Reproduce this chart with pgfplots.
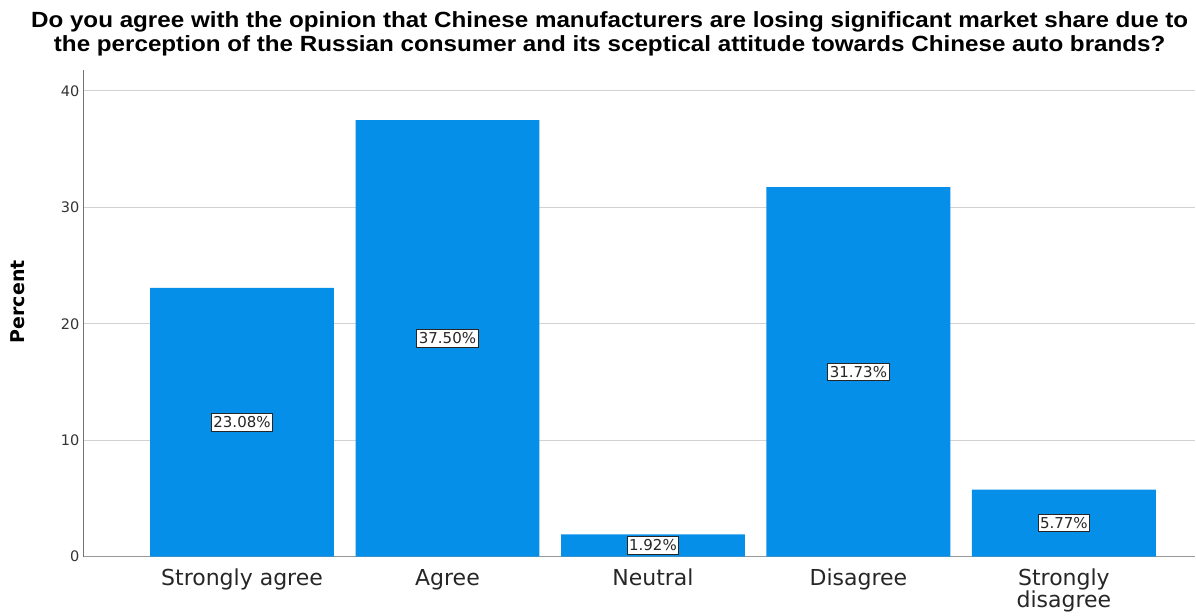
\documentclass[border=0pt]{standalone}
\usepackage{pgfplots}
\pgfplotsset{compat=1.18}
\usepackage{fontspec}
\setmainfont{DejaVu Sans}
\newfontfamily\titlefont{Liberation Sans}
\usetikzlibrary{calc}
\definecolor{barblue}{RGB}{6,143,232}
\definecolor{gridgray}{RGB}{210,210,210}
\begin{document}
\begin{tikzpicture}
\begin{axis}[
  scale only axis,
  width=1113pt, height=487pt,
  xmin=-0.774, xmax=4.64,
  ymin=0, ymax=41.8,
  axis x line*=bottom,
  axis y line*=left,
  x axis line style={draw=gray!80, line width=1.2pt},
  y axis line style={draw=gray!90!black, line width=0.8pt},
  xtick={0,1,2,3,4},
  xticklabels={Strongly agree, Agree, Neutral, Disagree, {Strongly\\disagree}},
  xtick style={draw=none},
  xticklabel style={font=\fontsize{22}{21.5}\selectfont, align=center, text=black!85, yshift=-9pt},
  ytick={0,10,20,30,40},
  ytick style={draw=none},
  yticklabel style={font=\fontsize{14.5}{16}\selectfont, text=black!80},
  /pgf/number format/assume math mode=true,
  ymajorgrids,
  grid style={gridgray, line width=1pt},
  clip=false,
]
\addplot[ybar, bar width=0.895, fill=barblue, draw=none, bar shift=0pt]
  coordinates {(0,23.08) (1,37.50) (2,1.92) (3,31.73) (4,5.77)};
\addplot[only marks, mark=none,
  nodes near coords={\pgfmathprintnumber[fixed,fixed zerofill,precision=2]{\pgfplotspointmeta}\%},
  point meta=explicit,
  nodes near coords style={anchor=center, fill=white, draw=black!85, line width=0.9pt,
    inner xsep=2pt, inner ysep=3pt, font=\fontsize{15}{16}\selectfont, text=black!85},
] coordinates {(0,11.54) [23.08] (1,18.75) [37.50] (2,0.96) [1.92] (3,15.865) [31.73] (4,2.885) [5.77]};
\coordinate (O) at (rel axis cs:0,0);
\end{axis}
\node[align=center] at ($(O)+(527pt,522pt)$)
  {\scalebox{1.1}[1]{\titlefont\bfseries\fontsize{22}{24}\selectfont
   \begin{tabular}{@{}c@{}}Do you agree with the opinion that Chinese manufacturers are losing significant market share due to\\
   the perception of the Russian consumer and its sceptical attitude towards Chinese auto brands?\end{tabular}}};
\node[font=\bfseries\fontsize{19}{21}\selectfont, rotate=90] at ($(O)+(-65pt,255pt)$) {Percent};
\useasboundingbox ($(O)+(-83pt,-56pt)$) rectangle ($(O)+(1113pt,557pt)$);
\end{tikzpicture}
\end{document}
